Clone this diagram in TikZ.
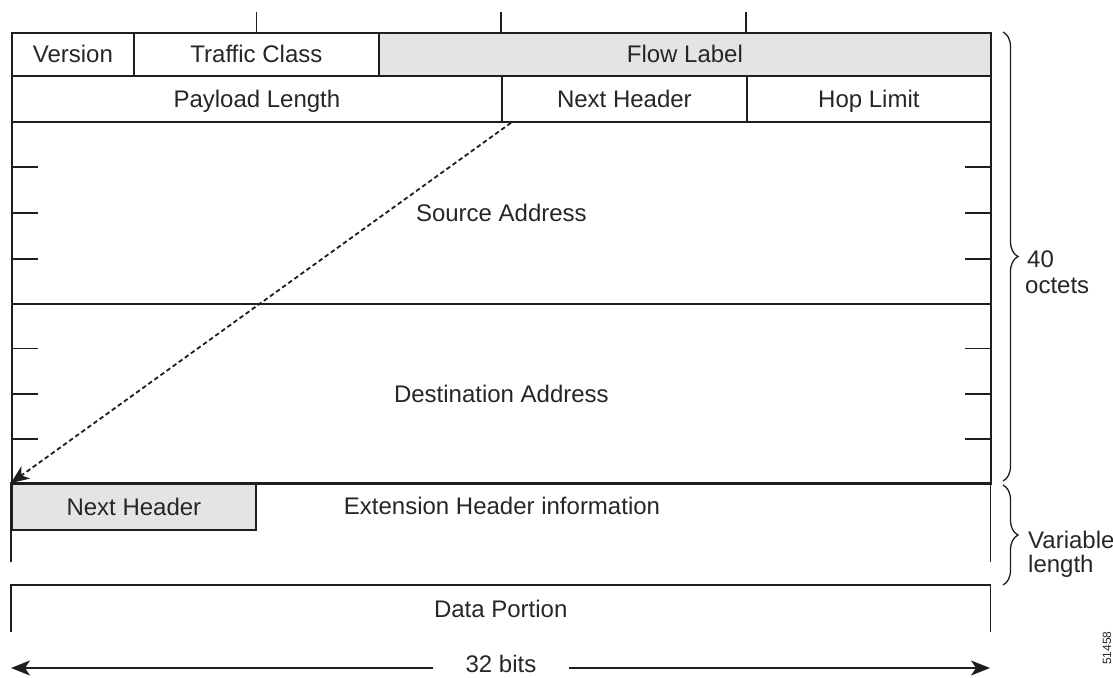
\documentclass[tikz,border=0pt]{standalone}
\usepackage{fontspec}
\setmainfont{Liberation Sans}
\usetikzlibrary{arrows.meta,decorations.pathreplacing,calc}

\definecolor{ink}{HTML}{1E1E1E}
\definecolor{txt}{HTML}{262626}
\definecolor{shade}{HTML}{E4E4E4}

\begin{document}
\begin{tikzpicture}[x=1pt,y=-1pt,
  every node/.style={font=\fontsize{24}{26}\selectfont, text=txt},
  field/.style={draw=ink, line width=1.8pt, inner sep=0pt, anchor=north west,
                text height=17.2pt, text depth=0pt},
  region/.style={inner sep=0pt, anchor=north west, text height=17.2pt, text depth=0pt},
  rule/.style={draw=ink, line width=1.8pt},
  tick/.style={draw=ink, line width=1.8pt},
  lbl/.style={anchor=base west, inner sep=0pt},
  brc/.style={draw=ink, line width=1.3pt, decorate,
              decoration={brace, amplitude=15pt, aspect=0.5}},
  ptr/.style={draw=ink, line width=1.8pt, dash pattern=on 4.5pt off 3pt,
              -{Stealth[length=18pt, width=15pt, inset=5pt]}},
  span/.style={draw=ink, line width=1.8pt,
               -{Stealth[length=19pt, width=15pt, inset=5pt]}}
]
\useasboundingbox (0,0) rectangle (1113,677);

% fixed 40-octet header
\node[field, minimum width=122pt, minimum height=43pt] (ver) at (11,32) {Version};
\node[field, minimum width=245pt, minimum height=43pt] (tc) at (133,32) {Traffic Class};
\node[field, fill=shade, minimum width=612pt, minimum height=43pt] (fl) at (378,32) {Flow Label};

\node[field, minimum width=490pt, minimum height=46pt] (pl) at (11,75) {Payload Length};
\node[field, minimum width=245pt, minimum height=46pt] (nh) at (501,75) {Next Header};
\node[field, minimum width=244pt, minimum height=46pt] (hl) at (746,75) {Hop Limit};

\node[field, minimum width=979pt, minimum height=182pt] (src) at (11,121) {Source Address};
\node[field, minimum width=979pt, minimum height=180pt] (dst) at (11,303) {Destination Address};

% byte boundaries above the first word
\draw[tick] (tc.north) -- ++(0,-20);
\draw[tick] (nh.north west |- fl.north) -- ++(0,-20);
\draw[tick] (hl.north west |- fl.north) -- ++(0,-20);

% 32-bit word marks inside the addresses
\foreach \f in {0.25,0.5,0.75}{
  \draw[tick] ($(src.north west)!\f!(src.south west)$) -- ++(27,0);
  \draw[tick] ($(src.north east)!\f!(src.south east)$) -- ++(-27,0);
  \draw[tick] ($(dst.north west)!\f!(dst.south west)$) -- ++(27,0);
  \draw[tick] ($(dst.north east)!\f!(dst.south east)$) -- ++(-27,0);
}

% extension header
\node[region, minimum width=979pt, minimum height=79pt] (ext) at (11,483) {};
\draw[rule] (ext.south west) -- (ext.north west) -- (ext.north east) -- (ext.south east);
\node[field, fill=shade, minimum width=244pt, minimum height=46pt] (enh) at (11,483) {Next Header};
\node[region, anchor=center] (exttxt) at (502,506) {Extension Header information};

% payload
\node[region, minimum width=979pt, minimum height=47pt] (data) at (11,585) {Data Portion};
\draw[rule] (data.south west) -- (data.north west) -- (data.north east) -- (data.south east);

% next header chain
\draw[ptr] ($(nh.south west)+(10,0)$) -- (ext.north west);

% word width
\node[inner xsep=32pt, inner ysep=0pt, text height=17.2pt, text depth=0pt] (bits) at (501,664) {32 bits};
\coordinate (bl) at (11,668);
\coordinate (br) at (990,668);
\draw[span] (bits.west |- bl) -- (bl);
\draw[span] (bits.east |- br) -- (br);

% length braces
\draw[brc] (1003,32) -- (1003,481);
\draw[brc] (1003,485) -- (1003,585);
\node[lbl] (n40) at (1027,267) {40};
\node[lbl] (noct) at (1025,293) {octets};
\node[lbl] (nvar) at (1028,548) {Variable};
\node[lbl] (nlen) at (1028,572) {length};

% figure number
\node[rotate=90, inner sep=0pt, font=\fontsize{12}{12}\selectfont] (fignum) at (1107,648) {51458};
\end{tikzpicture}
\end{document}
